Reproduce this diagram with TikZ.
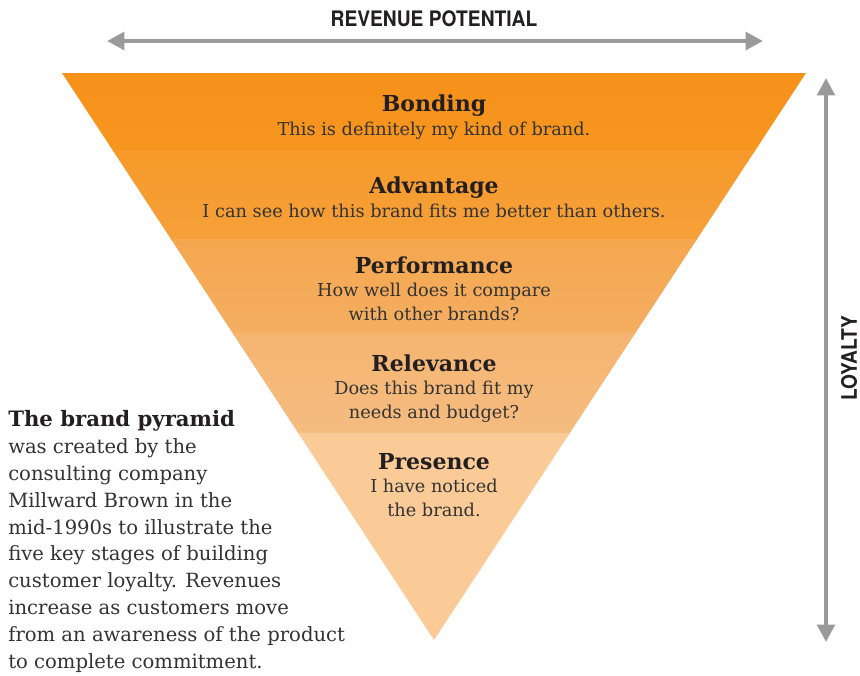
\documentclass[tikz,border=0pt]{standalone}
\usepackage{fontspec}
\setmainfont{DejaVu Serif}
\newfontfamily\capsfont{TeX Gyre Heros}
\usetikzlibrary{arrows.meta}
\definecolor{bandA}{HTML}{F6911A}
\definecolor{bandAb}{HTML}{F7961F}
\definecolor{bandB}{HTML}{F6A03A}
\definecolor{bandC}{HTML}{F4AE62}
\definecolor{bandD}{HTML}{F5BC80}
\definecolor{bandE}{HTML}{FACB97}
\definecolor{arrowgray}{HTML}{9A9A9A}
\definecolor{txt}{HTML}{333333}
\definecolor{hdtxt}{HTML}{231F20}
\tikzset{
  x=0.75pt, y=-0.75pt,
  stagetext/.style={anchor=base, align=center, inner sep=0pt, text=txt,
    font=\fontsize{13.3pt}{17.6pt}\selectfont},
  capslabel/.style={inner sep=0pt, text=hdtxt, font=\capsfont\bfseries\fontsize{16pt}{16pt}\selectfont},
  bigarrow/.style={arrowgray, line width=3.6pt, {Triangle[length=13pt,width=13pt]}-{Triangle[length=13pt,width=13pt]}},
  sidetext/.style={anchor=base west, align=left, inner sep=0pt, text=txt,
    font=\fontsize{14.7pt}{20.1pt}\selectfont}
}
\newcommand{\hd}[1]{{\color{hdtxt}\bfseries\fontsize{16.5pt}{17.6pt}\selectfont #1}}
\begin{document}
\begin{tikzpicture}
\useasboundingbox (0,0) rectangle (860,675);
\fill[white] (0,0) rectangle (860,675);
% pyramid
\coordinate (TL) at (62,73);
\coordinate (TR) at (806,73);
\coordinate (AP) at (434,640);
\begin{scope}
\clip (TL) -- (TR) -- (AP) -- cycle;
\shade[top color=bandA, bottom color=bandAb] (0,73) rectangle (860,151);
\shade[top color=bandAb!60!bandB, bottom color=bandB] (0,150) rectangle (860,240);
\shade[top color=bandB!50!bandC, bottom color=bandC] (0,239) rectangle (860,334);
\shade[top color=bandC!50!bandD, bottom color=bandD] (0,333) rectangle (860,434);
\fill[bandE] (0,433) rectangle (860,645);
\end{scope}
% stage texts (anchored at the baseline of their last line)
\node[stagetext] (bonding) at (434,135) {\hd{Bonding}\\This is definitely my kind of brand.};
\node[stagetext] (advantage) at (434,217) {\hd{Advantage}\\I can see how this brand fits me better than others.};
\node[stagetext] (performance) at (434,320) {\hd{Performance}\\How well does it compare\\with other brands?};
\node[stagetext] (relevance) at (434,418) {\hd{Relevance}\\Does this brand fit my\\needs and budget?};
\node[stagetext] (presence) at (434,516) {\hd{Presence}\\I have noticed\\the brand.};
% arrows
\coordinate (revL) at (107,41);
\coordinate (revR) at (763,41);
\draw[bigarrow] (revL) -- (revR);
\coordinate (loyT) at (826,78);
\coordinate (loyB) at (826,642);
\draw[bigarrow] (loyT) -- (loyB);
\node[capslabel] (revenue) at (434,19) {\scalebox{0.9}[1]{REVENUE POTENTIAL}};
\node[capslabel, rotate=90] (loyalty) at (849,358) {\scalebox{0.9}[1]{LOYALTY}};
% side text
\node[sidetext] (side) at (8,668) {{\color{hdtxt}\bfseries\fontsize{15.9pt}{20.1pt}\selectfont The brand pyramid}\\was created by the\\consulting company\\Millward Brown in the\\mid-1990s to illustrate the\\five key stages of building\\customer loyalty. Revenues\\increase as customers move\\from an awareness of the product\\to complete commitment.};
\end{tikzpicture}
\end{document}
